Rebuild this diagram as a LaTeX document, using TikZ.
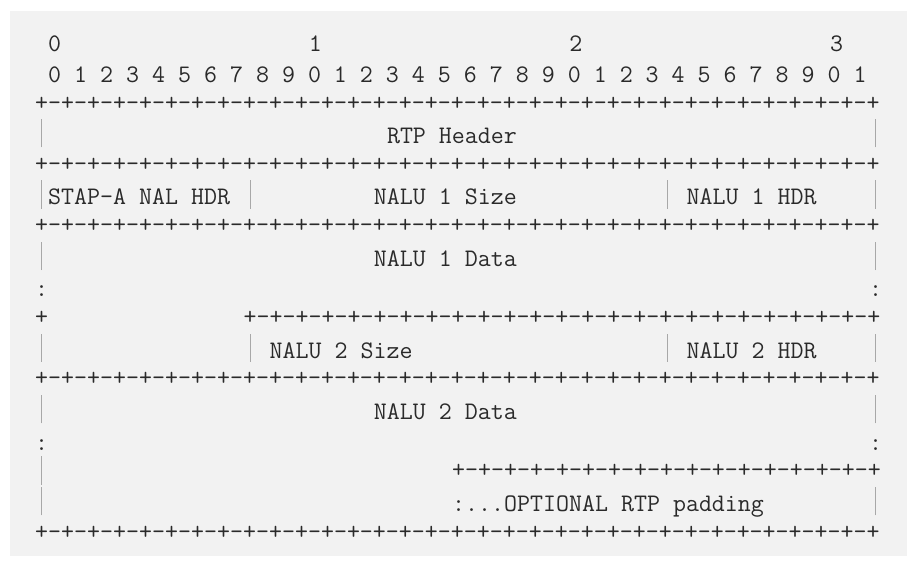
\documentclass[tikz,border=0pt]{standalone}
\definecolor{ink}{HTML}{2A2A2A}
\definecolor{rule}{HTML}{A8A8A8}
\definecolor{paper}{HTML}{F2F2F2}
\tikzset{
  cell/.style={anchor=base west, inner sep=0pt, outer sep=0pt, text=ink,
    font=\ttfamily\fontsize{18.92}{18.92}\selectfont},
  border/.style={cell, yshift=2.25pt},
  vbar/.style={draw=rule, line width=0.75pt}
}
% column c, row r -> pixel position
\newcommand{\cx}[1]{35.2+13.03*#1}
\newcommand{\ry}[1]{51.7+30.66*#1}
\newcommand{\plm}{+-+-+-+-}
\newcommand{\txt}[4]{\node[cell] (#1) at ({\cx{#3}},{\ry{#2}}) {#4};}

\begin{document}
\begin{tikzpicture}[x=0.75pt, y=-0.75pt]
  \fill[white] (0,0) rectangle (918,566);
  \fill[paper] (10,11) rectangle (907,556);
  \useasboundingbox (0,0) rectangle (918,566);
  % bit numbers
  \txt{tens0}{0}{1}{0}
  \txt{tens1}{0}{21}{1}
  \txt{tens2}{0}{41}{2}
  \txt{tens3}{0}{61}{3}
  \txt{bits}{1}{1}{0 1 2 3 4 5 6 7 8 9 0 1 2 3 4 5 6 7 8 9 0 1 2 3 4 5 6 7 8 9 0 1}
  % borders: row/column/number of +- groups
  \foreach \r/\c/\n in {2/0/8,4/0/8,6/0/8,9/0/0,9/16/6,11/0/8,14/32/4,16/0/8}
    \node[border] (line\r-\c) at ({\cx{\c}},{\ry{\r}})
      {\foreach \k in {1,...,\n}{\ifnum\n>0 \plm\fi}+};
  % fields
  \txt{rtp}{3}{27}{RTP Header}
  \txt{stap}{5}{1}{STAP-A NAL HDR}
  \txt{size1}{5}{26}{NALU 1 Size}
  \txt{hdr1}{5}{50}{NALU 1 HDR}
  \txt{data1}{7}{26}{NALU 1 Data}
  \txt{size2}{10}{18}{NALU 2 Size}
  \txt{hdr2}{10}{50}{NALU 2 HDR}
  \txt{data2}{12}{26}{NALU 2 Data}
  \txt{pad}{15}{32}{:...OPTIONAL RTP padding}
  \foreach \r in {8,13} {
    \txt{dotl\r}{\r}{0}{:}
    \txt{dotr\r}{\r}{64}{:}
  }
  % vertical bars
  \foreach \r/\c in {3/0,3/64,5/0,5/16,5/48,5/64,7/0,7/64,10/0,10/16,10/48,10/64,
                     12/0,12/64,14/0,15/0,15/64}
    \draw[vbar] ({\cx{\c}+6.5},{\ry{\r}+3.7}) -- ++(0,-28.3);
\end{tikzpicture}
\end{document}
